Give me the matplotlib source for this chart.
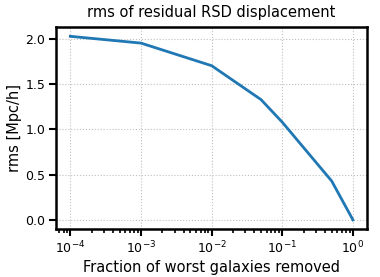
import numpy as np
import matplotlib
matplotlib.use("Agg")
import matplotlib.pyplot as plt

# fraction of worst galaxies removed and resulting rms
frac = [1e-4, 1e-3, 1e-2, 5e-2, 1e-1, 5e-1, 1.0]
rms = [2.03, 1.955, 1.705, 1.33, 1.08, 0.43, 0.0]

plt.rcParams['font.family'] = 'DejaVu Sans'

fig, ax = plt.subplots(figsize=(3.8, 2.77), dpi=100)
ax.plot(frac, rms, color='#1f77b4', lw=2)
ax.set_xscale('log')
ax.set_xticks([1e-4, 1e-3, 1e-2, 1e-1, 1e0])
ax.set_yticks([0.0, 0.5, 1.0, 1.5, 2.0])
ax.grid(True, which='major', ls=':', color='#c0c0c0', lw=0.8)
for s in ax.spines.values():
    s.set_linewidth(1.8)
ax.tick_params(which='major', length=5, width=1.5, labelsize=9, pad=3)
ax.tick_params(which='minor', length=3, width=1.2)
ax.set_xlabel('Fraction of worst galaxies removed', fontsize=10.5, labelpad=2)
ax.set_ylabel('rms [Mpc/h]', fontsize=10.5, labelpad=2)
ax.set_title('rms of residual RSD displacement', fontsize=10.5, pad=7)
fig.subplots_adjust(left=0.148, right=0.966, top=0.902, bottom=0.173)
fig.savefig('out.png')
